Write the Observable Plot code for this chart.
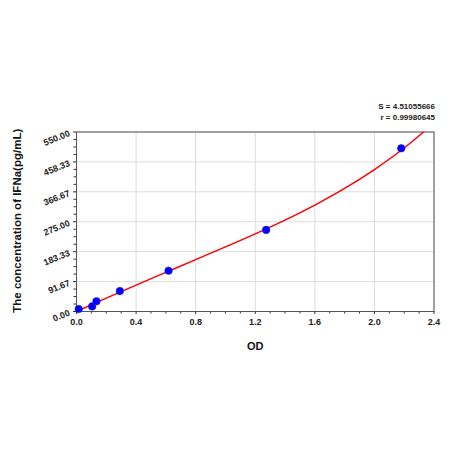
<!DOCTYPE html>
<html><head><meta charset="utf-8">
<script src="https://cdn.jsdelivr.net/npm/d3@7"></script>
<script src="https://cdn.jsdelivr.net/npm/@observablehq/plot@0.6"></script>
<style>body{margin:0;background:#fff}</style>
</head><body><div id="chart"></div>
<script>
const xTicks = [0, 0.4, 0.8, 1.2, 1.6, 2.0, 2.4];
const xTickLabels = ["0.0", "0.4", "0.8", "1.2", "1.6", "2.0", "2.4"];
const xMinor = [0.1, 0.2, 0.3, 0.5, 0.6, 0.7, 0.9, 1.0, 1.1, 1.3, 1.4, 1.5, 1.7, 1.8, 1.9, 2.1, 2.2, 2.3];
const yTicks = [0, 91.67, 183.33, 275, 366.67, 458.33, 550];
const yTickLabels = ["0.00", "91.67", "183.33", "275.00", "366.67", "458.33", "550.00"];
const yMinor = [22.92, 45.83, 68.75, 114.58, 137.5, 160.42, 206.25, 229.17, 252.08, 297.92, 320.83, 343.75, 389.58, 412.5, 435.42, 481.25, 504.17, 527.08];
const standardOD = [0.015, 0.105, 0.134, 0.291, 0.618, 1.273, 2.18];
const standardConc = [7.8, 15.6, 31.25, 62.5, 125, 250, 500];
const curveOD = [0, 0.2, 0.4, 0.6, 0.8, 1.0, 1.2, 1.4, 1.6, 1.8, 2.0, 2.2, 2.33];
const curveConc = [0, 41, 81, 120, 159, 198, 238, 280, 326, 377, 435, 501, 550];
const statLines = ["S = 4.51055666", "r = 0.99980645"];
const xTitle = "OD";
const yTitle = "The concentration of IFNa(pg/mL)";

const points = standardOD.map((x, i) => ({x, y: standardConc[i]}));
const curve = curveOD.map((x, i) => ({x, y: curveConc[i]}));
const font = "Arial, 'Liberation Sans', sans-serif";

const chart = Plot.plot({
  width: 450, height: 450,
  marginLeft: 76, marginRight: 16.5, marginTop: 131.5, marginBottom: 139,
  style: {fontFamily: font, background: "#fff"},
  x: {domain: [0, 2.4]},
  y: {domain: [0, 550]},
  marks: [
    Plot.gridX(xTicks, {stroke: "#dcdcdc", strokeOpacity: 1}),
    Plot.gridY(yTicks, {stroke: "#dcdcdc", strokeOpacity: 1}),
    Plot.axisX({ticks: xMinor, tickSize: 2.5, tickFormat: () => "", stroke: "#333", label: null}),
    Plot.axisY({ticks: yMinor, tickSize: 2.5, tickFormat: () => "", stroke: "#333", label: null}),
    Plot.axisX({ticks: xTicks, tickSize: 3, tickPadding: 4, tickFormat: (d, i) => xTickLabels[i],
      fontSize: 9, fontWeight: "bold", fill: "#222", stroke: "#333", label: null}),
    Plot.axisY({ticks: yTicks, tickSize: 3, tickFormat: () => "", stroke: "#333", label: null}),
    Plot.text(yTicks, {x: 0, y: d => d, text: (d, i) => yTickLabels[i], dx: -7, dy: 1,
      rotate: -22, textAnchor: "end", lineAnchor: "middle", fontSize: 9, fontWeight: "bold", fill: "#222"}),
    Plot.frame({stroke: "#555", strokeWidth: 1}),
    Plot.line(curve, {x: "x", y: "y", stroke: "#ff0000", strokeWidth: 1.5, curve: "monotone-x", clip: true}),
    Plot.dot(points, {x: "x", y: "y", r: 3.8, fill: "#0000ff", stroke: "#2020d0", strokeWidth: 0.5}),
    Plot.text([statLines[0]], {frameAnchor: "top-right", dy: -26, dx: 1, textAnchor: "end", lineAnchor: "middle",
      fontSize: 8, fontWeight: "bold", fill: "#222"}),
    Plot.text([statLines[1]], {frameAnchor: "top-right", dy: -14.5, dx: 1, textAnchor: "end", lineAnchor: "middle",
      fontSize: 8, fontWeight: "bold", fill: "#222"}),
    Plot.text([xTitle], {frameAnchor: "bottom", dy: 35, lineAnchor: "middle",
      fontSize: 11, fontWeight: "bold", fill: "#111"}),
    Plot.text([yTitle], {frameAnchor: "left", dx: -59, dy: -1, rotate: -90, lineAnchor: "middle", textAnchor: "middle",
      fontSize: 11.5, fontWeight: "bold", fill: "#111"})
  ]
});
document.getElementById("chart").appendChild(chart);
</script>
</body></html>
